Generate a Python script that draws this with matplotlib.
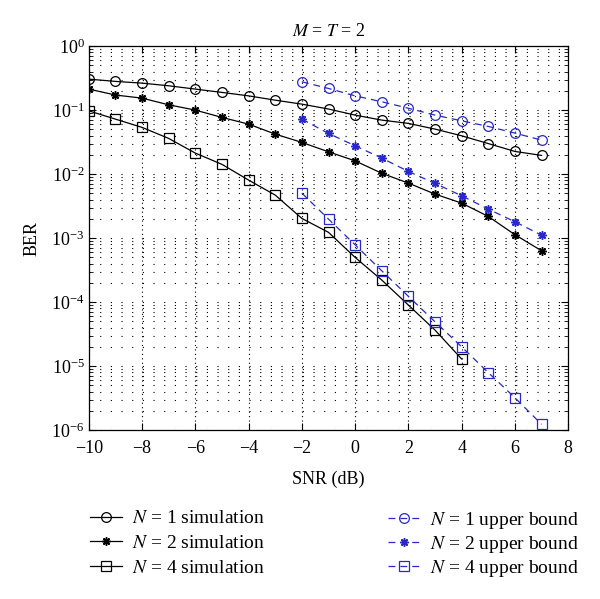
import matplotlib
matplotlib.use('Agg')
import matplotlib.pyplot as plt
import numpy as np

plt.rcParams['font.family'] = ['Liberation Serif', 'DejaVu Serif']
plt.rcParams['mathtext.fontset'] = 'stix'
plt.rcParams['font.size'] = 13

# SNR (dB)
snr_sim = np.arange(-10, 8)
snr_bound = np.arange(-2, 8)
snr_sim4 = np.arange(-10, 5)

# simulation results
ber_n1_sim = [0.305, 0.281, 0.264, 0.240, 0.213, 0.189, 0.167, 0.143, 0.124,
              0.104, 0.0835, 0.0698, 0.062, 0.0505, 0.0397, 0.030, 0.0226, 0.0196]
ber_n2_sim = [0.213, 0.172, 0.154, 0.121, 0.100, 0.0769, 0.0604, 0.0422, 0.0313,
              0.0223, 0.0161, 0.0103, 0.00724, 0.00487, 0.00352, 0.00218, 0.00113, 0.000634]
ber_n4_sim = [0.0975, 0.0723, 0.0537, 0.0361, 0.0213, 0.0142, 0.00806, 0.00470,
              0.00203, 0.00123, 0.000499, 0.000221, 8.98e-5, 3.65e-5, 1.29e-5]

# upper bounds
ber_n1_ub = [0.277, 0.218, 0.167, 0.135, 0.107, 0.0835, 0.068, 0.0556, 0.0437, 0.034]
ber_n2_ub = [0.0723, 0.0432, 0.0277, 0.0178, 0.0110, 0.00716, 0.00458, 0.00284, 0.0018, 0.00111]
ber_n4_ub = [0.00505, 0.00198, 0.000785, 0.000308, 0.000123, 4.92e-5, 2.0e-5, 7.9e-6, 3.2e-6, 1.23e-6]

blue = '#2828cc'
star = (8, 2, 0)

fig = plt.figure(figsize=(6, 5.99), dpi=100)
ax = fig.add_axes([0.148, 0.282, 0.799, 0.641])

kw = dict(linewidth=0.9, markersize=7, markerfacecolor='none', markeredgewidth=0.9)
skw = dict(linewidth=0.9, markersize=6, markeredgewidth=1.1)
h1, = ax.plot(snr_sim, ber_n1_sim, '-', color='k', marker='o', label='$N$ = 1 simulation', **kw)
h2, = ax.plot(snr_sim, ber_n2_sim, '-', color='k', marker=star, label='$N$ = 2 simulation', **skw)
h3, = ax.plot(snr_sim4, ber_n4_sim, '-', color='k', marker='s', label='$N$ = 4 simulation', **kw)

dash = (0, (5.5, 4))
h4, = ax.plot(snr_bound, ber_n1_ub, linestyle=dash, color=blue, marker='o',
              label='$N$ = 1 upper bound', **kw)
h5, = ax.plot(snr_bound, ber_n2_ub, linestyle=dash, color=blue, marker=star,
              label='$N$ = 2 upper bound', **skw)
h6, = ax.plot(snr_bound, ber_n4_ub, linestyle=dash, color=blue, marker='s',
              label='$N$ = 4 upper bound', **kw)

ax.set_yscale('log')
ax.set_xlim(-10, 8)
ax.set_ylim(1e-6, 1)
ax.set_xticks(np.arange(-10, 9, 2))
ax.set_xticklabels(['\u221210', '\u22128', '\u22126', '\u22124', '\u22122', '0', '2', '4', '6', '8'])

ax.tick_params(which='both', direction='in', top=True, right=True)
ax.tick_params(which='major', length=5, width=0.8)
ax.tick_params(which='minor', length=3, width=0.6)
ax.tick_params(axis='x', which='minor', bottom=False, top=False)
ax.tick_params(axis='x', pad=7)
ax.tick_params(axis='y', pad=3)

ax.yaxis.grid(True, which='both', linestyle=(0, (1, 8.6)), linewidth=0.8, color='k')
ax.xaxis.grid(True, which='major', linestyle=(0, (1, 3)), linewidth=0.8, color='k')
ax.set_axisbelow(True)
for s in ax.spines.values():
    s.set_linewidth(0.9)

ax.set_xlabel('SNR (dB)', labelpad=10)
ax.set_ylabel('BER', labelpad=8)
ax.set_title('$M$ = $T$ = 2', pad=7, fontsize=13)

lkw = dict(frameon=False, borderpad=0, borderaxespad=0, handlelength=1.65,
           handletextpad=0.52, fontsize=14)
fig.legend(handles=[h1, h2, h3], loc='upper left', bbox_to_anchor=(0.15, 0.149),
           labelspacing=0.37, **lkw)
fig.legend(handles=[h4, h5, h6], loc='upper left', bbox_to_anchor=(0.647, 0.149),
           labelspacing=0.15, **lkw)

fig.savefig('out.png', dpi=100)
